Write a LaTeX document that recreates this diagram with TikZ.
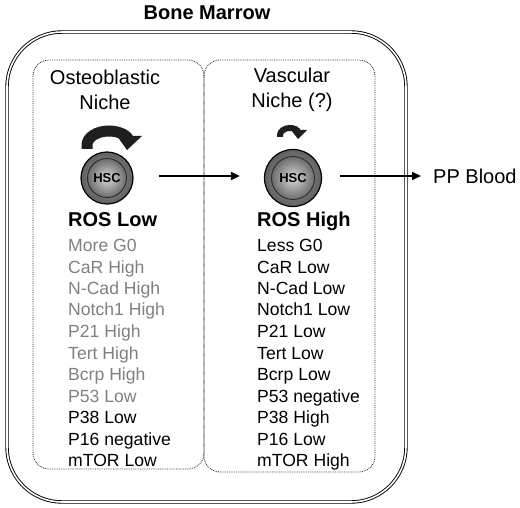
\documentclass[tikz,border=0pt]{standalone}
\usepackage{fontspec}
\setmainfont{Liberation Sans}
\usetikzlibrary{arrows.meta}

\definecolor{dimtext}{gray}{0.5}

\tikzset{
  title/.style={font=\bfseries\fontsize{20}{24}\selectfont},
  lbl/.style={font=\fontsize{20}{25}\selectfont, align=center},
  head/.style={font=\bfseries\fontsize{20}{24}\selectfont, anchor=base west, inner sep=0pt},
  item/.style={font=\fontsize{17.6}{21}\selectfont, anchor=base west, inner sep=0pt},
  niche/.style={densely dotted, line width=0.8pt, black!85, rounded corners=16pt},
  hscring/.style={circle, draw=black, line width=1.2pt, shading=radial,
    inner color=black!40, outer color=black!62, inner sep=0pt},
  hsccore/.style={circle, draw=black!85, line width=0.8pt, shading=radial,
    inner color=black!15, outer color=black!58, inner sep=0pt,
    font=\bfseries\fontsize{13}{13}\selectfont},
  flow/.style={line width=1.8pt, -{Triangle[length=9pt,width=8pt]}},
  turn/.style={black!88, line cap=butt}
}

\begin{document}
\begin{tikzpicture}[x=1pt,y=-1pt]
  \useasboundingbox (0,0) rectangle (520,508);

  % bone marrow frame
  \draw[double, double distance=1.6pt, line width=0.9pt, rounded corners=55pt] (7,32) rectangle (406,502);
  \node[title] (marrow) at (207,13) {Bone Marrow};

  % the two niches
  \draw[niche] (33,60) rectangle (204,469);
  \draw[niche] (204,60) rectangle (375,472);
  \node[lbl] (osteo) at (105,90) {Osteoblastic\\Niche};
  \node[lbl] (vasc) at (292,90) {Vascular\\Niche (?)};

  % stem cells
  \node[hscring, minimum size=52pt] (hscL) at (107,178) {};
  \node[hsccore, minimum size=39pt] (hscLc) at (hscL) {HSC};
  \node[hscring, minimum size=57pt] (hscR) at (293,178) {};
  \node[hsccore, minimum size=43pt] (hscRc) at (hscR) {HSC};

  % self renewal
  \draw[turn, line width=11pt] (87,149) -- (87,145)
    arc[start angle=180, end angle=335, x radius=22, y radius=14];
  \fill[turn] (117,136) -- (142,136) -- (127,150) -- cycle;
  \draw[turn, line width=6pt] (280,137) -- (280,135)
    arc[start angle=180, end angle=330, x radius=10, y radius=7];
  \fill[turn] (291,130) -- (307,130) -- (298,139) -- cycle;

  \node[lbl, anchor=west, inner sep=0pt] (blood) at (433,176) {PP Blood};
  \draw[flow] ([xshift=25pt,yshift=2pt]hscL.east) -- ([xshift=-24pt,yshift=2pt]hscR.west);
  \draw[flow] ([xshift=18pt,yshift=2pt]hscR.east) -- ([xshift=-12pt]blood.west);

  % marker lists
  \node[head] (rosL) at (68,227) {ROS Low};
  \foreach \t/\c [count=\i] in {More G0/dimtext, CaR High/dimtext, N-Cad High/dimtext,
      Notch1 High/dimtext, P21 High/dimtext, Tert High/dimtext, Bcrp High/dimtext,
      P53 Low/dimtext, P38 Low/black, P16 negative/black, mTOR Low/black}
    \node[item, text=\c] (l\i) at (68,230+21.5*\i) {\t};

  \node[head] (rosH) at (257,227) {ROS High};
  \foreach \t [count=\i] in {Less G0, CaR Low, N-Cad Low, Notch1 Low, P21 Low,
      Tert Low, Bcrp Low, P53 negative, P38 High, P16 Low, mTOR High}
    \node[item] (r\i) at (257,230+21.5*\i) {\t};
\end{tikzpicture}
\end{document}
